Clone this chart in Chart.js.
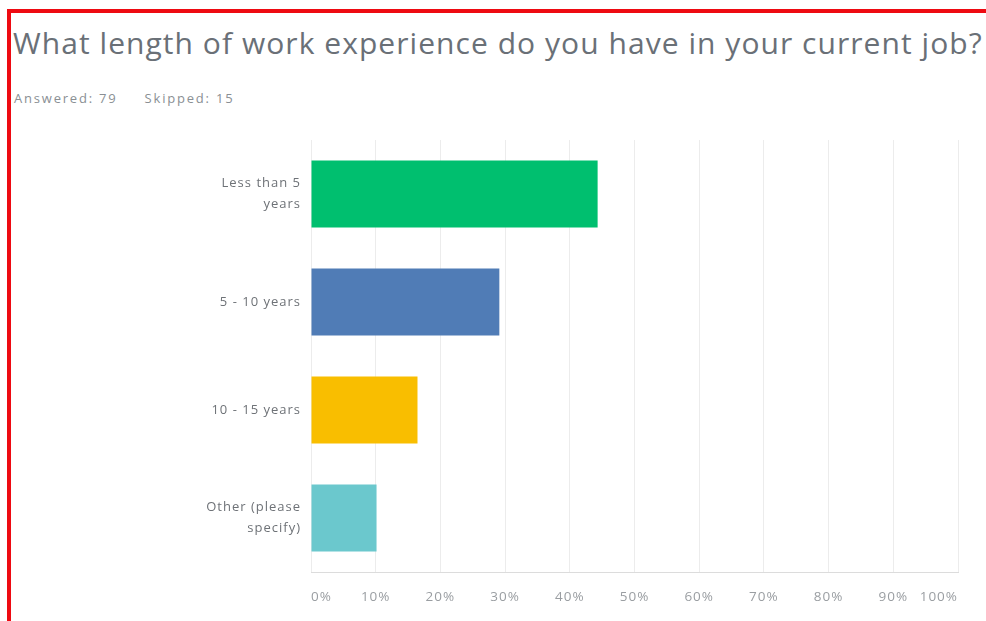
<!DOCTYPE html>
<html>
<head>
<meta charset="utf-8">
<script src="https://cdn.jsdelivr.net/npm/chart.js@4/dist/chart.umd.min.js"></script>
<style>
  html, body { margin: 0; padding: 0; background: #fff; width: 986px; height: 621px; overflow: hidden; }
  .frame {
    position: absolute; left: 7px; top: 9px; right: -10px; bottom: -10px;
    border-left: 4px solid #ee0a12; border-top: 4px solid #ee0a12;
  }
  .q-title {
    position: absolute; left: 13px; top: 22px; right: 0;
    font-family: "Open Sans", sans-serif; font-weight: 400; font-size: 30px;
    color: #6a7077; white-space: nowrap; overflow: hidden; letter-spacing: 1.05px;
  }
  .q-meta {
    position: absolute; left: 14px; top: 89px;
    font-family: "Open Sans", sans-serif; font-size: 13px; color: #8a8f94; letter-spacing: 1.8px;
  }
  .q-meta span + span { margin-left: 27px; }
  #chart { position: absolute; left: 0; top: 0; }
</style>
</head>
<body>
<div class="frame"></div>
<div class="q-title">What length of work experience do you have in your current job?</div>
<div class="q-meta"><span>Answered: 79</span><span>Skipped: 15</span></div>
<canvas id="chart" width="986" height="621"></canvas>

<script>
// answer options, share of respondents (%) and bar colours
const answerLabels = [["Less than 5", "years"], "5 - 10 years", "10 - 15 years", ["Other (please", "specify)"]];
const answerPercents = [44.30, 29.11, 16.46, 10.13];
const answerColors = ["#00bf6f", "#507cb6", "#f9be00", "#6bc8cd"];
const percentTicks = [0, 10, 20, 30, 40, 50, 60, 70, 80, 90, 100];

// wider text tracking for the axis labels
const spacedText = {
    id: "spacedText",
    beforeDraw(chart) { chart.ctx.letterSpacing = "1px"; },
};

const ctx = document.getElementById("chart");

new Chart(ctx, {
    type: "bar",
    data: {
        labels: answerLabels,
        datasets: [{
            data: answerPercents,
            backgroundColor: answerColors,
            borderWidth: 0,
            categoryPercentage: 1,
            barPercentage: 0.62,
        }],
    },
    options: {
        indexAxis: "y",
        responsive: false,
        animation: false,
        layout: { padding: { top: 140, right: 28, bottom: 0, left: 0 } },
        plugins: {
            legend: { display: false },
            tooltip: { enabled: false },
        },
        scales: {
            x: {
                min: 0,
                max: 100,
                afterBuildTicks(scale) {
                    scale.ticks = percentTicks.map(v => ({ value: v }));
                },
                afterFit(scale) { scale.height = 49; },
                grid: { color: "#ececec", drawTicks: false },
                border: { color: "#dcdcdc" },
                ticks: {
                    align: "inner",
                    padding: 17,
                    color: "#9a9ea2",
                    font: { family: "Open Sans", size: 13.5 },
                    callback: v => v + "%",
                },
            },
            y: {
                afterFit(scale) { scale.width = 311; },
                grid: { display: false, drawTicks: false },
                border: { display: false },
                ticks: {
                    padding: 10,
                    color: "#6e7277",
                    font: { family: "Open Sans", size: 13, lineHeight: 1.6 },
                },
            },
        },
    },
    plugins: [spacedText],
});
</script>
</body>
</html>
